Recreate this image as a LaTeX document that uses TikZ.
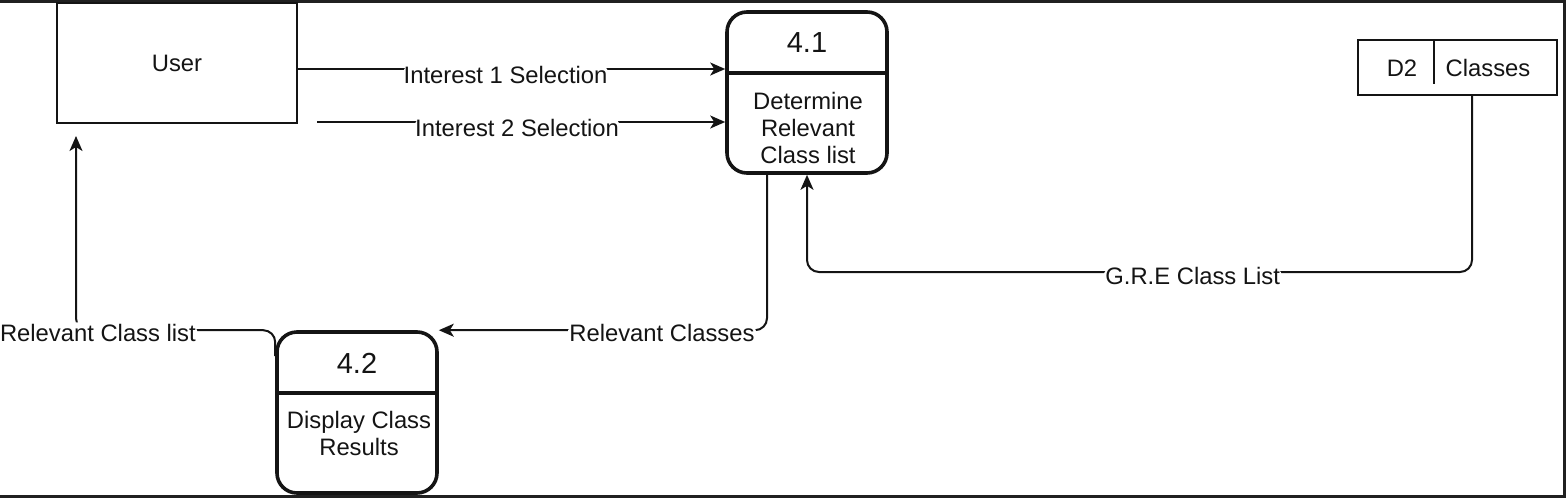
\documentclass[tikz,border=0pt]{standalone}
\usepackage{fontspec}
\setmainfont{Liberation Sans}
\usetikzlibrary{arrows.meta,positioning,calc}
\definecolor{dfdblack}{RGB}{20,20,20}
\definecolor{dfdframe}{RGB}{32,32,32}

\begin{document}
\begin{tikzpicture}[x=0.5pt, y=-0.5pt,
    every node/.style={font=\fontsize{11.9}{13.5}\selectfont, text=dfdblack},
    dfdentity/.style={rectangle, draw=dfdblack, line width=1pt,
                 minimum width=120pt, minimum height=60pt},
    dfdproc/.style={rectangle, draw=dfdblack, line width=1.8pt,
                 rounded corners=10pt, minimum width=80pt,
                 minimum height=80.5pt},
    dfdtitle/.style={rectangle, inner sep=0pt, minimum width=80pt,
                 minimum height=30pt, font=\fontsize{14.5}{16}\selectfont},
    dfdtext/.style={inner sep=0pt, align=center},
    dfdstore/.style={rectangle, draw=dfdblack, line width=1pt,
                 minimum width=99.5pt, minimum height=27.5pt},
    arr/.style={-{Stealth[length=7.5pt, width=6.5pt, inset=2pt]},
                line width=1pt, dfdblack, rounded corners=6pt},
    flowlabel/.style={fill=white, inner sep=1pt},
  ]
  \useasboundingbox (0,0) rectangle (1566,498);

  % Rand
  \fill[dfdframe] (0,0) rectangle (1566,3);
  \fill[dfdframe] (1563,0) rectangle (1566,498);
  \fill[dfdframe] (0,495) rectangle (1566,498);

  % Externe Entitaet
  \node[dfdentity] (user) at (177,63) {User};

  % Prozess 4.1
  \node[dfdproc] (p41) at (807,92.5) {};
  \node[dfdtitle] (p41id) at (807,43) {4.1};
  \draw[line width=1.8pt, dfdblack] (p41id.south west |- 0,73) -- (p41id.south east |- 0,73);
  \node[dfdtext] (p41txt) at (808,128) {Determine\\Relevant\\Class list};

  % Prozess 4.2
  \node[dfdproc] (p42) at (357,412.5) {};
  \node[dfdtitle] (p42id) at (357,363) {4.2};
  \draw[line width=1.8pt, dfdblack] (p42id.south west |- 0,393) -- (p42id.south east |- 0,393);
  \node[dfdtext] (p42txt) at (359,433.5) {Display Class\\Results};

  % Datenspeicher
  \node[dfdstore] (d2) at (1457.5,67.5) {};
  \draw[line width=1pt, dfdblack] ($(d2.north west)+(77,0)$) -- ++(0,45);
  \node[dfdtext] (d2id) at (1402,68) {D2};
  \node[dfdtext] (d2name) at (1488,68) {Classes};

  % Datenfluesse
  \coordinate (i1s) at ([yshift=-3pt]user.east);
  \coordinate (i2s) at (317,122);
  \coordinate (rclend) at ([xshift=10pt, yshift=-6pt]user.south west);

  \draw[arr] (i1s) -- node[flowlabel, xshift=-3pt, yshift=-3pt] {Interest 1 Selection}
    (i1s -| p41.west);
  \draw[arr] (i2s) -- node[flowlabel, xshift=-2pt, yshift=-3pt] {Interest 2 Selection}
    (i2s -| p41.west);

  \draw[arr] ([xshift=-20pt]p41.south) |- (p42.north east)
    node[flowlabel, pos=0.66, yshift=-1.5pt] {Relevant Classes};

  \draw[arr] ([xshift=7.25pt]d2.south) -- ++(0,176) -| (p41.south)
    node[flowlabel, pos=0.21, yshift=-2pt] {G.R.E Class List};

  \draw[arr] ([yshift=-13pt]p42.north west) |- (rclend |- p42.north)
    node[flowlabel, pos=0.95, xshift=1pt, yshift=-1.5pt] {Relevant Class list} -- (rclend);
\end{tikzpicture}
\end{document}
